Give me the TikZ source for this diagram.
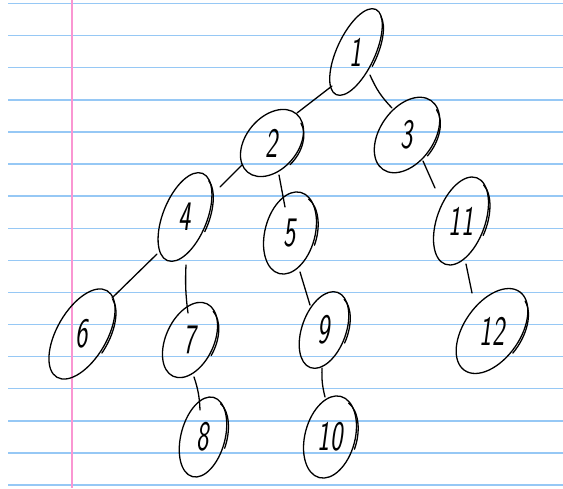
\documentclass[tikz,border=0pt]{standalone}
\usetikzlibrary{shapes.geometric,calc}
\definecolor{ruleblue}{RGB}{150,200,245}
\definecolor{marginpink}{RGB}{250,150,210}
\tikzset{
  ink/.style={line width=1.3pt, black, line cap=round, line join=round},
  tnode/.style={ink, draw, ellipse, inner sep=0pt, font=\fontsize{42}{42}\selectfont\sffamily\slshape},
  paperline/.style={ruleblue, line width=1.4pt},
  marginline/.style={marginpink, line width=1.2pt}
}
% name, x, y, tilt, width, height, text
\newcommand\tn[7]{\node[tnode, rotate=-#4, minimum width=#5pt, minimum height=#6pt] (#1) at (#2,-#3) {\rotatebox{#4}{\scalebox{0.62}[1]{#7}}};}
% name, tilt, half width, half height
\newcommand\hk[4]{%
  \begin{scope}[shift={(#1)}, rotate=-#2]
    \draw[ink] ({(#3-1)*cos(75)+3},{(#4-3)*sin(75)}) arc[start angle=75, end angle=-8, x radius=#3-1, y radius=#4-3];
  \end{scope}}
\begin{document}
\begin{tikzpicture}[x=1pt,y=1pt]
\useasboundingbox (0,0) rectangle (563,-488);
\fill[white] (0,0) rectangle (563,-488);
\foreach \i in {0,...,15} \draw[paperline] (8,{-3.5-32.1*\i}) -- (563,{-3.5-32.1*\i});
\draw[marginline] (72,0) -- (72,-488);

\tn{n1}{356}{52}{25}{38}{94}{1}
\tn{n2}{272}{143}{40}{52}{76}{2}
\tn{n3}{407}{135}{35}{54}{84}{3}
\tn{n4}{185}{217}{22}{44}{94}{4}
\tn{n5}{290}{233}{15}{50}{84}{5}
\tn{n11}{461}{221}{20}{48}{92}{11}
\tn{n6}{82}{334}{30}{50}{100}{6}
\tn{n7}{190}{340}{25}{48}{80}{7}
\tn{n9}{324}{330}{20}{44}{80}{9}
\tn{n12}{492}{331}{35}{56}{96}{12}
\tn{n8}{203}{437}{15}{44}{82}{8}
\tn{n10}{330}{437}{15}{50}{84}{10}

\hk{n1}{25}{19}{47}
\hk{n2}{40}{26}{38}
\hk{n3}{35}{27}{42}
\hk{n4}{22}{22}{47}
\hk{n5}{15}{25}{42}
\hk{n11}{20}{24}{46}
\hk{n6}{30}{25}{50}
\hk{n7}{25}{24}{40}
\hk{n9}{20}{22}{40}
\hk{n12}{35}{28}{48}
\hk{n8}{15}{22}{41}
\hk{n10}{15}{25}{42}

\draw[ink] ($(n1)+(-24,-34)$) -- ($(n2)+(25,30)$);
\draw[ink] ($(n1)+(14,-23)$) to[bend right=10] ($(n3)+(-15,27)$);
\draw[ink] ($(n2)+(-30,-22)$) -- ($(n4)+(35,30)$);
\draw[ink] ($(n2)+(7,-32)$) -- ($(n5)+(-5,26)$);
\draw[ink] ($(n3)+(16,-26)$) -- ($(n11)+(-26,33)$);
\draw[ink] ($(n4)+(-28,-37)$) -- ($(n6)+(30,36)$);
\draw[ink] ($(n4)+(1,-48)$) to[bend right=5] ($(n7)+(-2,27)$);
\draw[ink] ($(n5)+(10,-39)$) -- ($(n9)+(-14,25)$);
\draw[ink] ($(n11)+(5,-43)$) -- ($(n12)+(-20,38)$);
\draw[ink] ($(n7)+(4,-37)$) to[bend left=8] ($(n8)+(-3,27)$);
\draw[ink] ($(n9)+(-2,-38)$) to[bend right=8] ($(n10)+(-5,40)$);
\end{tikzpicture}
\end{document}
